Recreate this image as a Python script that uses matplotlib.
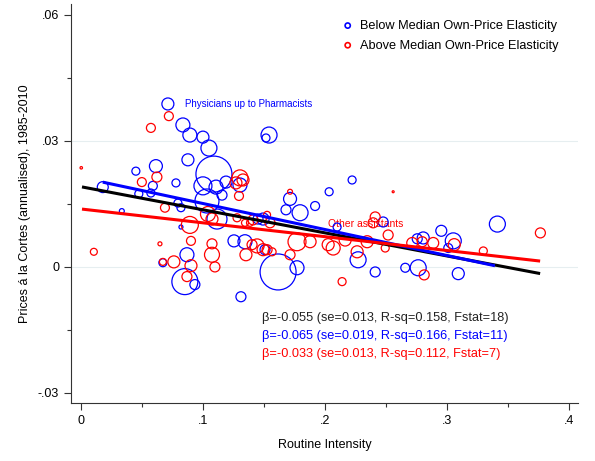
import matplotlib.pyplot as plt
from matplotlib.ticker import FuncFormatter, MultipleLocator
import numpy as np

# occupations below median own-price elasticity
blue_x = [0.0713, 0.0836, 0.0893, 0.1000, 0.1049, 0.0877, 0.1090, 0.0615, 0.0451, 0.0590,
          0.0779, 0.0180, 0.0475, 0.0574, 0.1000, 0.1107, 0.1189, 0.1303, 0.1033, 0.1156,
          0.0795, 0.0820, 0.0336, 0.1115, 0.0820, 0.1451, 0.1541, 0.1516, 0.2221, 0.1713,
          0.2033, 0.1918, 0.1680, 0.1795, 0.2475, 0.1492, 0.2098, 0.3410, 0.2951, 0.2754,
          0.2803, 0.3049, 0.3008, 0.2656, 0.2762, 0.3090, 0.0869, 0.0672, 0.0852, 0.0934,
          0.1311, 0.1254, 0.1344, 0.1508, 0.1615, 0.1770, 0.2270, 0.2410]
blue_y = [0.0387, 0.0337, 0.0313, 0.0308, 0.0282, 0.0254, 0.0220, 0.0239, 0.0227, 0.0192,
          0.0199, 0.0189, 0.0173, 0.0175, 0.0192, 0.0189, 0.0201, 0.0194, 0.0156, 0.0170,
          0.0151, 0.0140, 0.0132, 0.0113, 0.0094, 0.0113, 0.0313, 0.0306, 0.0206, 0.0161,
          0.0178, 0.0144, 0.0135, 0.0128, 0.0106, 0.0113, 0.0094, 0.0101, 0.0085, 0.0066,
          0.0068, 0.0061, 0.0044, -0.0003, -0.0003, -0.0017, 0.0028, 0.0009, -0.0036, -0.0043,
          -0.0072, 0.0061, 0.0059, 0.0040, -0.0013, -0.0003, 0.0016, -0.0013]
blue_w = [36, 49, 49, 36, 64, 36, 324, 42, 16, 20,
          16, 30, 16, 16, 81, 49, 36, 49, 144, 25,
          16, 16, 6, 100, 4, 25, 64, 16, 16, 42,
          16, 20, 25, 64, 25, 36, 16, 64, 30, 25,
          36, 64, 20, 20, 64, 36, 49, 16, 169, 25,
          25, 36, 49, 25, 324, 49, 64, 25]

# occupations above median own-price elasticity
red_x = [0.0721, 0.0574, 0.0623, 0.0500, 0.0004, 0.1303, 0.1270, 0.1328, 0.1295, 0.0689,
         0.1041, 0.1074, 0.0893, 0.1344, 0.1385, 0.1279, 0.1713, 0.2557, 0.2410, 0.1525,
         0.2516, 0.2492, 0.3762, 0.2713, 0.2795, 0.2885, 0.3057, 0.3295, 0.2811, 0.0107,
         0.0902, 0.0648, 0.1074, 0.1074, 0.1098, 0.0902, 0.0762, 0.0672, 0.0869, 0.1352,
         0.1443, 0.1525, 0.1566, 0.1770, 0.1877, 0.2025, 0.2066, 0.2262, 0.2344, 0.2393,
         0.2139, 0.1410, 0.1549, 0.1492, 0.1713, 0.1402, 0.2164]
red_y = [0.0358, 0.0330, 0.0213, 0.0201, 0.0235, 0.0211, 0.0199, 0.0206, 0.0168, 0.0140,
         0.0125, 0.0113, 0.0099, 0.0104, 0.0104, 0.0116, 0.0178, 0.0178, 0.0118, 0.0123,
         0.0075, 0.0044, 0.0080, 0.0056, 0.0059, 0.0056, 0.0052, 0.0037, -0.0020, 0.0035,
         0.0061, 0.0054, 0.0054, 0.0028, -0.0001, 0.0002, 0.0011, 0.0011, -0.0024, 0.0028,
         0.0049, 0.0040, 0.0035, 0.0059, 0.0059, 0.0052, 0.0044, 0.0035, 0.0059, 0.0104,
         -0.0036, 0.0111, 0.0104, 0.0040, 0.0028, 0.0052, 0.0063]
red_w = [20, 20, 25, 20, 1.5, 64, 36, 36, 20, 20,
         56, 36, 72, 12, 12, 16, 6, 1, 25, 12,
         25, 16, 25, 30, 25, 30, 36, 16, 25, 12,
         20, 4, 25, 56, 25, 36, 36, 12, 25, 36,
         49, 25, 16, 81, 36, 36, 49, 36, 36, 25,
         16, 25, 25, 36, 25, 25, 36]

# fitted lines: (intercept, slope, x from, x to)
fit_all = (0.0190, -0.055, 0.001, 0.376)
fit_blue = (0.0212, -0.062, 0.018, 0.339)
fit_red = (0.0137, -0.033, 0.001, 0.376)

stats = ["β=-0.055 (se=0.013, R-sq=0.158, Fstat=18)",
         "β=-0.065 (se=0.019, R-sq=0.166, Fstat=11)",
         "β=-0.033 (se=0.013, R-sq=0.112, Fstat=7)"]

plt.rcParams['font.family'] = ['Liberation Sans', 'DejaVu Sans']
BLUE = '#0000ff'
RED = '#ff0000'

fig = plt.figure(figsize=(5.95, 4.61), dpi=100)
ax = fig.add_axes([71 / 595, 1 - 403 / 461, 507 / 595, 399 / 461])

for g in [0.03, 0.0]:
    ax.axhline(g, color='#e6eef0', lw=0.8, zorder=0)

k = 2.07  # weight -> marker area
ax.scatter(blue_x, blue_y, s=np.array(blue_w) * k, facecolors='none',
           edgecolors=BLUE, linewidths=0.9, zorder=2)
ax.scatter(red_x, red_y, s=np.array(red_w) * k, facecolors='none',
           edgecolors=RED, linewidths=0.9, zorder=2)

for (a, b, x0, x1), c in [(fit_all, 'black'), (fit_blue, BLUE), (fit_red, RED)]:
    xs = np.array([x0, x1])
    ax.plot(xs, a + b * xs, color=c, lw=2.2, zorder=3, solid_capstyle='butt')

ax.text(0.0852, 0.0387, "Physicians up to Pharmacists", color=BLUE,
        fontsize=7, va='center', ha='left')
ax.text(0.2025, 0.0101, "Other assistants", color=RED,
        fontsize=7.5, va='center', ha='left', zorder=1)

for i, (t, c) in enumerate(zip(stats, ['#222222', BLUE, RED])):
    ax.text(0.1484, -0.0122 - 0.0043 * i, t, color=c, fontsize=9.2,
            va='center', ha='left')

# legend
h1 = ax.scatter([], [], s=14, facecolors='none', edgecolors=BLUE, linewidths=1.2)
h2 = ax.scatter([], [], s=14, facecolors='none', edgecolors=RED, linewidths=1.2)
ax.legend([h1, h2], ["Below Median Own-Price Elasticity", "Above Median Own-Price Elasticity"],
          loc='upper left', bbox_to_anchor=(0.513, 0.9825), frameon=False, fontsize=9.2,
          handlelength=1.2, handletextpad=0.4, labelspacing=0.6, borderaxespad=0.3)

ax.set_xlim(-0.008, 0.407)
ax.set_ylim(-0.0325, 0.0625)
ax.xaxis.set_major_locator(MultipleLocator(0.1))
ax.xaxis.set_minor_locator(MultipleLocator(0.05))
ax.yaxis.set_major_locator(MultipleLocator(0.03))
ax.yaxis.set_minor_locator(MultipleLocator(0.015))


def short(v, pos):
    s = f"{v:.2f}".rstrip('0').rstrip('.')
    if s in ('-0', '0'):
        return '0'
    return s.replace('0.', '.')


ax.xaxis.set_major_formatter(FuncFormatter(short))
ax.yaxis.set_major_formatter(FuncFormatter(short))
ax.tick_params(which='major', length=5, width=0.8, labelsize=9, color='#333333')
ax.tick_params(which='minor', length=3, width=0.8, color='#333333')
ax.spines['top'].set_visible(False)
ax.spines['right'].set_visible(False)
ax.spines['left'].set_color('#333333')
ax.spines['bottom'].set_color('#333333')

ax.set_xlabel("Routine Intensity", fontsize=9, labelpad=9)
ax.set_ylabel("Prices á la Cortes (annualised), 1985-2010", fontsize=9, labelpad=5)

fig.savefig("out.png", dpi=100)
